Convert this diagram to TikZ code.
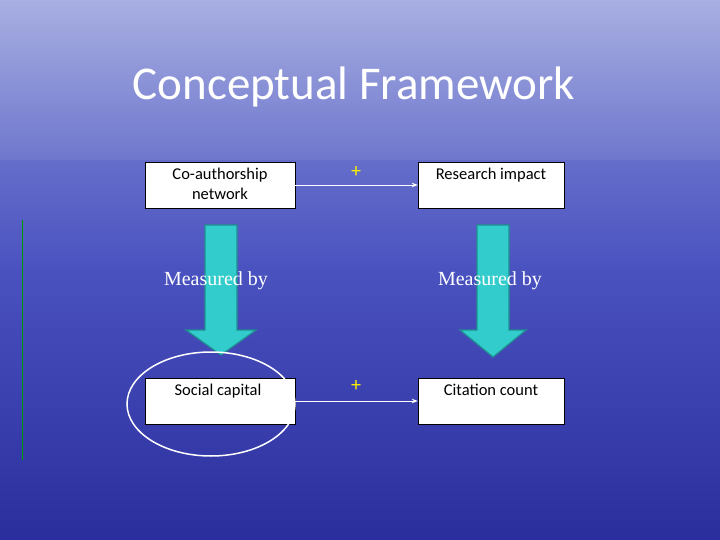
\documentclass[tikz,border=0pt]{standalone}
\usepackage{fontspec}
\setmainfont{Liberation Serif}
\newfontfamily\calfont{Carlito}
\usetikzlibrary{arrows.meta}
\definecolor{bgtop}{HTML}{8C95D8}
\definecolor{bgmid}{HTML}{4A52C0}
\definecolor{bgbot}{HTML}{2A2E9C}
\definecolor{teal}{HTML}{33CCCC}
\definecolor{tealdark}{HTML}{1F8F8F}
\tikzset{
 box/.style={draw=black, fill=white, minimum width=150pt, minimum height=46pt, align=center, font=\calfont\fontsize{16.5}{20}\selectfont, inner sep=2pt},
 link/.style={draw=white, line width=0.8pt, -{Stealth[length=6pt]}},
 plus/.style={text=yellow, font=\calfont\fontsize{20}{20}\selectfont},
 meas/.style={text=white, font=\fontsize{20}{22}\selectfont},
 bigarrow/.style={fill=teal, draw=tealdark, line width=1.2pt}
}
\begin{document}
\begin{tikzpicture}[x=1pt,y=-1pt]
\useasboundingbox (0,0) rectangle (720,540);
\shade[top color=bgtop, bottom color=bgbot, middle color=bgmid] (0,0) rectangle (720,540);
\shade[top color=white, bottom color=bgtop, opacity=0.25] (0,0) rectangle (720,160);
\draw[green!60!black, line width=1pt] (22,220) -- (22,460);
\node (title) [text=white, font=\calfont\fontsize{47}{50}\selectfont] at (354,87) {Conceptual Framework};
\node (co) [box] at (220,185) {};
\node[font=\calfont\fontsize{16.5}{20}\selectfont, align=center, anchor=north, inner sep=0pt] at (220,168) {Co-authorship\\network};
\node (ri) [box, minimum width=146pt] at (491,185) {};
\node[font=\calfont\fontsize{16.5}{20}\selectfont, anchor=north, inner sep=0pt] at (491,168) {Research impact};
\node (sc) [box] at (220,401) {};
\node[font=\calfont\fontsize{16.5}{20}\selectfont, anchor=north, inner sep=0pt] at (218,384) {Social capital};
\node (cc) [box, minimum width=146pt] at (491,401) {};
\node[font=\calfont\fontsize{16.5}{20}\selectfont, anchor=north, inner sep=0pt] at (491,384) {Citation count};
\draw[link] (co) -- (ri);
\draw[link] (sc) -- (cc);
\node (p1) [plus] at (356,172) {+};
\node (p2) [plus] at (356,386) {+};
\draw[bigarrow] (205,225) -- (237,225) -- (237,330) -- (256,330) -- (221,355) -- (186,330) -- (205,330) -- cycle;
\draw[bigarrow] (477,225) -- (509,225) -- (509,330) -- (526,330) -- (493,357) -- (460,330) -- (477,330) -- cycle;
\node (m1) [meas] at (216,281) {Measured by};
\node (m2) [meas] at (490,281) {Measured by};
\draw[white, line width=1.5pt] (211,404) ellipse [x radius=84, y radius=52];
\end{tikzpicture}
\end{document}
